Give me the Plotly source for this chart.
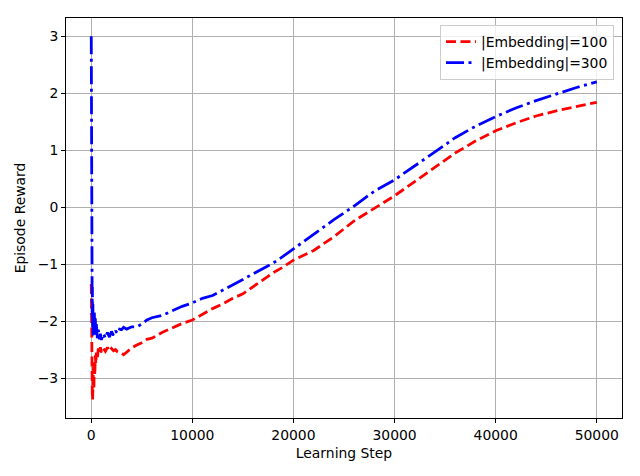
import plotly.graph_objects as go

steps_100 = [0, 15, 30, 45, 60, 80, 100, 130, 160, 190, 220, 260, 300, 350, 400, 450, 500, 600, 700, 800, 900,
             1000, 1200, 1400, 1600, 1800, 2000, 2200, 2400, 2600, 2800, 3000, 3200, 3500, 4000, 4500, 5000, 5500,
             6000, 7000, 8000, 9000, 10000, 11000, 12000, 13000, 14000, 15000, 16000, 17000, 18000, 19000, 20000,
             22000, 24000, 26000, 28000, 30000, 32000, 34000, 36000, 38000, 40000, 42000, 44000, 46000, 48000, 50000]
reward_100 = [-1.35, -1.9, -2.6, -2.0, -3.0, -2.4, -3.25, -3.38, -3.0, -3.3, -2.8, -3.2, -2.7, -2.95, -2.6, -2.75,
              -2.55, -2.65, -2.48, -2.56, -2.46, -2.55, -2.48, -2.53, -2.46, -2.53, -2.48, -2.52, -2.5, -2.54, -2.55,
              -2.56, -2.59, -2.55, -2.47, -2.42, -2.38, -2.32, -2.3, -2.2, -2.12, -2.04, -1.98, -1.88, -1.78, -1.7,
              -1.6, -1.52, -1.4, -1.27, -1.15, -1.05, -0.93, -0.76, -0.52, -0.24, -0.02, 0.2, 0.45, 0.7, 0.95,
              1.16, 1.34, 1.48, 1.6, 1.69, 1.77, 1.84]

steps_300 = [0, 10, 20, 30, 40, 55, 70, 90, 110, 130, 160, 190, 220, 260, 300, 350, 400, 450, 500, 600, 700, 800,
             900, 1000, 1200, 1400, 1600, 1800, 2000, 2200, 2400, 2600, 2800, 3000, 3200, 3500, 4000, 4500, 5000,
             5500, 6000, 7000, 8000, 9000, 10000, 11000, 12000, 13000, 14000, 15000, 16000, 17000, 18000, 19000,
             20000, 22000, 24000, 26000, 28000, 30000, 32000, 34000, 36000, 38000, 40000, 42000, 44000, 46000,
             48000, 50000]
reward_300 = [3.0, 2.0, 0.8, -0.3, -1.2, -1.6, -1.25, -1.9, -1.4, -2.1, -1.7, -2.25, -1.9, -2.2, -1.85, -2.1, -1.95,
              -2.25, -2.05, -2.3, -2.15, -2.32, -2.22, -2.33, -2.22, -2.3, -2.2, -2.28, -2.18, -2.25, -2.17, -2.22,
              -2.14, -2.15, -2.11, -2.14, -2.1, -2.1, -2.05, -1.98, -1.94, -1.9, -1.82, -1.74, -1.68, -1.6, -1.55,
              -1.46, -1.36, -1.27, -1.17, -1.08, -0.98, -0.86, -0.73, -0.48, -0.22, 0.02, 0.28, 0.48, 0.72, 0.97,
              1.22, 1.42, 1.59, 1.74, 1.87, 1.99, 2.1, 2.2]

x_ticks = [0, 10000, 20000, 30000, 40000, 50000]
y_ticks = [-3, -2, -1, 0, 1, 2, 3]

FONT = "DejaVu Sans"

fig = go.Figure()
fig.add_trace(go.Scatter(x=steps_100, y=reward_100, mode="lines", name="|Embedding|=100",
                         line=dict(color="red", width=2.8, dash="10px,4.5px")))
fig.add_trace(go.Scatter(x=steps_300, y=reward_300, mode="lines", name="|Embedding|=300",
                         line=dict(color="blue", width=2.8, dash="18px,4.5px,3px,4.5px")))

axis_common = dict(showline=True, mirror=True, linecolor="black", linewidth=1,
                   ticks="outside", ticklen=4, tickcolor="black", showgrid=True,
                   gridcolor="#b0b0b0", gridwidth=0.8, zeroline=False,
                   tickfont=dict(family=FONT, size=13.9, color="black"))

# page body has an 8px margin, so the figure is sized/offset to compensate
fig.update_layout(
    width=632, height=468,
    margin=dict(l=58, r=18, t=10, b=58),
    paper_bgcolor="white", plot_bgcolor="white",
    font=dict(family=FONT, size=13.9, color="black"),
    showlegend=True,
    legend=dict(x=0.9856, y=0.9825, xanchor="right", yanchor="top",
                bgcolor="rgba(255,255,255,0.8)", bordercolor="#cccccc", borderwidth=1,
                font=dict(family=FONT, size=13.9, color="black"), tracegroupgap=2),
    xaxis=dict(range=[-2500, 52500], tickvals=x_ticks, ticktext=[str(v) for v in x_ticks],
               title=dict(text="Learning Step", font=dict(family=FONT, size=13.9), standoff=6),
               **axis_common),
    yaxis=dict(range=[-3.70, 3.32], tickvals=y_ticks,
               title=dict(text="Episode Reward", font=dict(family=FONT, size=13.9), standoff=8),
               **axis_common),
)

fig.write_html("out.html")
